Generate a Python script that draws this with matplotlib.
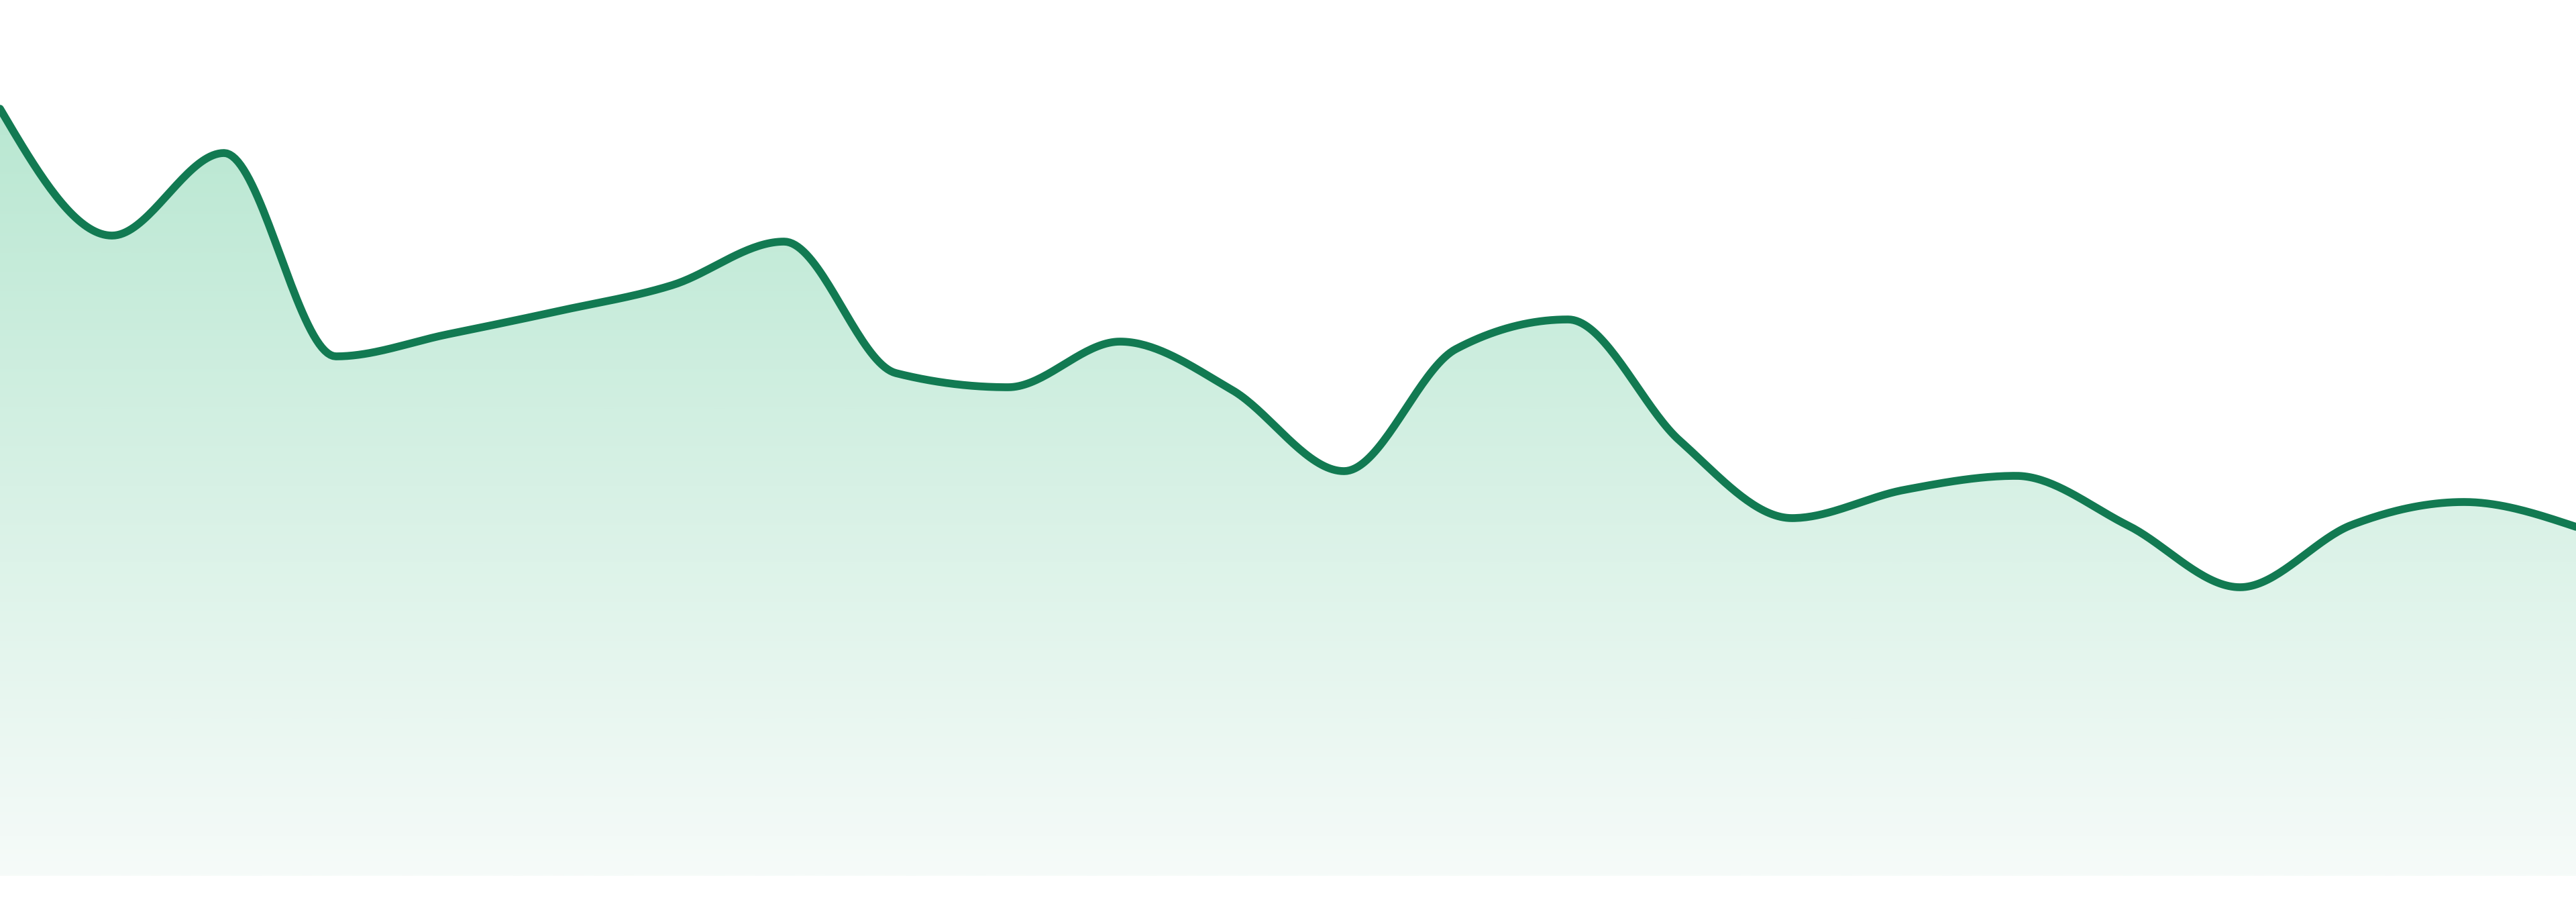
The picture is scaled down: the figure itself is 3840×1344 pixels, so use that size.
import numpy as np
import matplotlib
matplotlib.use('Agg')
import matplotlib.pyplot as plt
from matplotlib.colors import LinearSegmentedColormap
from matplotlib.patches import Polygon

# valores (24 pontos igualmente espaçados)
periods = list(range(24))
values = [114.3, 95.4, 107.7, 77.4, 80.7, 84.2, 88.0, 94.5, 74.9, 72.8, 79.6, 72.4,
          60.3, 78.5, 82.9, 64.8, 53.3, 57.5, 59.6, 52.2, 43.0, 52.3, 55.7, 52.0]

LINE_COLOR = '#127a52'
FILL_TOP = '#b8e7d1'
FILL_BOTTOM = '#f6fbf9'


def monotone_curve(x, y, n=40):
    """Interpolação monotônica (estilo d3 curveMonotoneX)."""
    x = np.asarray(x, dtype=float)
    y = np.asarray(y, dtype=float)
    h = np.diff(x)
    s = np.diff(y) / h
    m = np.zeros_like(y)
    for i in range(1, len(y) - 1):
        s0, s1 = s[i - 1], s[i]
        p = (s0 * h[i] + s1 * h[i - 1]) / (h[i - 1] + h[i])
        m[i] = (np.sign(s0) + np.sign(s1)) * min(abs(s0), abs(s1), 0.5 * abs(p))
    m[0] = (3 * s[0] - m[1]) / 2
    m[-1] = (3 * s[-1] - m[-2]) / 2
    xs, ys = [], []
    for i in range(len(x) - 1):
        t = np.linspace(0, 1, n, endpoint=(i == len(x) - 2))
        h00 = 2 * t**3 - 3 * t**2 + 1
        h10 = t**3 - 2 * t**2 + t
        h01 = -2 * t**3 + 3 * t**2
        h11 = t**3 - t**2
        xs.append(x[i] + t * h[i])
        ys.append(h00 * y[i] + h10 * h[i] * m[i] + h01 * y[i + 1] + h11 * h[i] * m[i + 1])
    return np.concatenate(xs), np.concatenate(ys)


fig = plt.figure(figsize=(19.2, 6.72), dpi=200)
ax = fig.add_axes([0, 0, 1, 1])
ax.axis('off')

cx, cy = monotone_curve(periods, values)

# preenchimento em gradiente
top = max(values) + 2
cmap = LinearSegmentedColormap.from_list('fade', [FILL_BOTTOM, FILL_TOP])
grad = np.linspace(0, 1, 512).reshape(-1, 1)
img = ax.imshow(grad, cmap=cmap, aspect='auto', origin='lower',
                extent=[periods[0], periods[-1], 0, top], zorder=1)
poly = Polygon(np.column_stack([np.r_[cx, cx[-1], cx[0]], np.r_[cy, 0, 0]]),
               closed=True, facecolor='none', edgecolor='none')
ax.add_patch(poly)
img.set_clip_path(poly)

ax.plot(cx, cy, color=LINE_COLOR, lw=4.2, solid_capstyle='round', zorder=3)

# limites depois do imshow (que redefine a escala)
ax.set_xlim(periods[0], periods[-1])
ax.set_ylim(-3.9, 130.5)

fig.savefig('out.png', dpi=200, facecolor='white')
